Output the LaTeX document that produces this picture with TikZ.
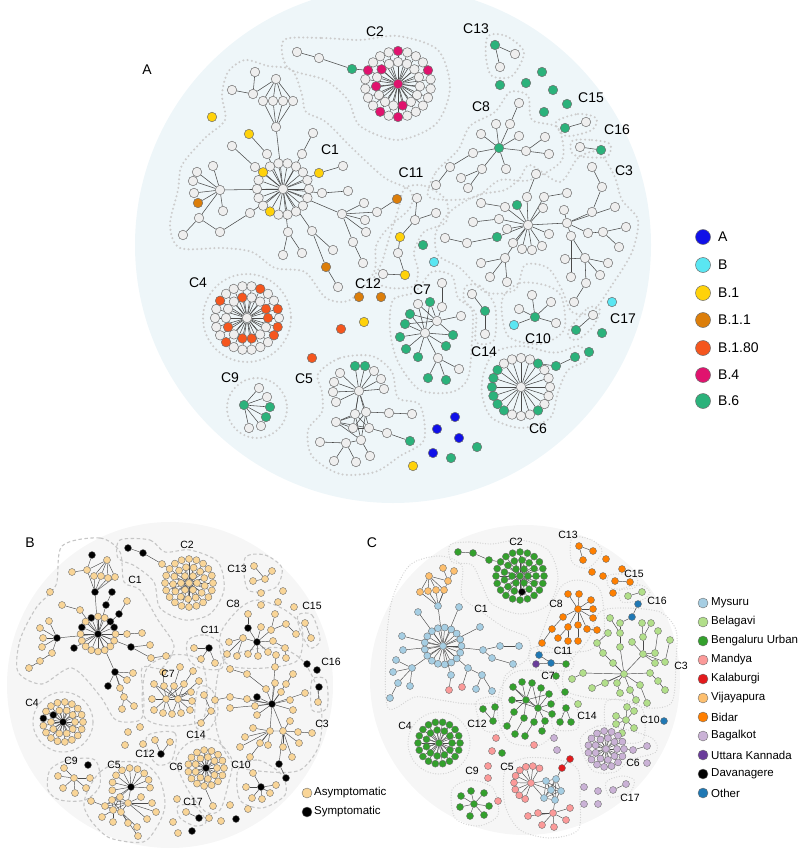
\documentclass[tikz,border=0pt]{standalone}
\usepackage{fontspec}
\setmainfont{Liberation Sans}
\usetikzlibrary{calc}
\pgfdeclarelayer{bg}
\pgfdeclarelayer{lk}
\pgfsetlayers{bg,lk,main}

\definecolor{bgA}{HTML}{EEF6F9}
\definecolor{bgS}{HTML}{F6F6F6}
\definecolor{ndA}{HTML}{EEEEEE}
\definecolor{ndline}{HTML}{6E6E6E}
\definecolor{lnkcol}{HTML}{4A4A4A}
\definecolor{hulcA}{HTML}{CCCCCC}
\definecolor{hulcB}{HTML}{C6C6C6}
\definecolor{hulcC}{HTML}{D2D2D2}
% lineages
\definecolor{bA}{HTML}{1010E8}
\definecolor{cyB}{HTML}{5AE6F2}
\definecolor{yB1}{HTML}{FFD20A}
\definecolor{oB11}{HTML}{DC7E0A}
\definecolor{rB180}{HTML}{F5561E}
\definecolor{pB4}{HTML}{E0136E}
\definecolor{gB6}{HTML}{2BB27B}
% symptoms
\definecolor{asy}{HTML}{F9D597}
\definecolor{sym}{HTML}{000000}
% districts
\definecolor{mys}{HTML}{A6CEE3}
\definecolor{bel}{HTML}{B2DF8A}
\definecolor{gBU}{HTML}{33A02C}
\definecolor{mand}{HTML}{FB9A99}
\definecolor{kal}{HTML}{E31A1C}
\definecolor{vij}{HTML}{FDBF6F}
\definecolor{bid}{HTML}{FF7F00}
\definecolor{bag}{HTML}{CAB2D6}
\definecolor{ukan}{HTML}{6A3D9A}
\definecolor{dav}{HTML}{000000}
\definecolor{oth}{HTML}{1F78B4}

% links are collected, then drawn once on the link layer
\gdef\alllinks{}
\newcommand{\lk}[1]{\xdef\alllinks{\unexpanded\expandafter{\alllinks}\noexpand\draw[lnk] #1;}}
\newcommand{\flushlinks}{\begin{pgfonlayer}{lk}\alllinks\end{pgfonlayer}\gdef\alllinks{}}
% free nodes: name, x/y/colour list
\newcommand{\loose}[2]{\foreach \x/\y/\c [count=\k] in {#2}{\node[nd, fill=\c] (#1-\k) at (\x,\y) {};}}
% nodes hanging from a parent
\newcommand{\leaves}[3]{\foreach \x/\y/\c [count=\k] in {#3}{\node[nd, fill=\c] (#1-\k) at (\x,\y) {}; \lk{(#2) -- (#1-\k)}}}
% links inside one group
\newcommand{\links}[2]{\foreach \a/\b in {#2}{\lk{(#1-\a) -- (#1-\b)}}}
% ring round a hub: name, hub, count, radius, start, colour, other colour, indices in other colour
\newcommand{\ringof}[8]{%
  \foreach \k in {1,...,#3}{%
    \gdef\rcol{#6}%
    \foreach \j in {#8}{\ifnum\j=\k\relax\gdef\rcol{#7}\fi}%
    \node[nd, fill=\rcol] (#1-\k) at ($(#2)+({#5+360*(\k-1)/#3}:#4)$) {};%
    \lk{(#2) -- (#1-\k)}%
  }}

\begin{document}
\begin{tikzpicture}[x=1pt, y=-1pt,
    nd/.style={circle, draw=ndline, line width=0.5pt, inner sep=0pt, minimum size=9.5pt},
    lnk/.style={draw=lnkcol, line width=0.55pt},
    hullA/.style={draw=hulcA, line width=2.3pt, line cap=round, dash pattern=on 0pt off 4.3pt},
    hullB/.style={draw=hulcB, line width=1.1pt, dash pattern=on 3.5pt off 2.5pt},
    hullC/.style={draw=hulcC, line width=1.3pt, line cap=round, dash pattern=on 0pt off 2.6pt},
    labA/.style={font=\fontsize{14}{16}\selectfont, inner sep=1pt},
    labS/.style={font=\fontsize{10.5}{12}\selectfont, inner sep=1pt},
    legtxt/.style={font=\fontsize{11.5}{13}\selectfont, anchor=west, inner sep=2pt}
]
\useasboundingbox (0,0) rectangle (800,848);

%%%%%%%%%%%%%%%%%%%% A: lineages
\begin{pgfonlayer}{bg}
\fill[bgA] (393,245) circle (258);
\draw[hullA] plot[smooth cycle] coordinates {(284,40) (322,38) (360,40) (398,36) (438,50) (450,88) (436,124) (398,140) (360,126) (348,100) (325,80) (288,68)};
\draw[hullA] plot[smooth cycle] coordinates {(245,60) (268,66) (292,70) (302,95) (306,112) (326,122) (352,148) (385,178) (410,190) (410,208) (388,228) (376,246) (374,272) (350,300) (326,298) (305,272) (275,268) (252,252) (222,248) (180,248) (170,225) (178,190) (182,165) (205,138) (225,120) (222,95) (228,72)};
\draw[hullA] plot[smooth cycle] coordinates {(405,188) (425,186) (446,200) (446,222) (424,232) (414,252) (418,270) (414,286) (390,288) (374,280) (382,262) (390,235) (398,210)};
\draw[hullA] plot[smooth cycle] coordinates {(428,196) (436,172) (458,150) (470,126) (495,112) (510,92) (528,96) (532,120) (558,128) (562,160) (530,180) (500,180) (478,196) (452,200)};
\draw[hullA] plot[smooth cycle] coordinates {(436,232) (452,210) (478,195) (505,190) (520,178) (530,165) (560,182) (578,158) (598,152) (614,175) (622,200) (638,220) (632,252) (612,285) (592,312) (572,312) (562,290) (548,268) (525,265) (515,290) (485,292) (460,268) (438,255)};
\draw[hullA] plot[smooth cycle] coordinates {(502,300) (520,283) (548,286) (562,298) (564,330) (540,344) (508,336)};
\draw[hullA] plot[smooth cycle] coordinates {(466,286) (480,286) (495,306) (494,340) (476,342) (476,314) (464,300)};
\draw[hullA] plot[smooth cycle] coordinates {(484,372) (495,352) (521,346) (548,352) (560,352) (580,346) (587,360) (568,370) (558,392) (550,418) (521,428) (492,418) (482,395)};
\draw[hullA] plot[smooth cycle] coordinates {(393,300) (415,292) (432,272) (452,276) (458,298) (472,310) (472,340) (468,378) (452,392) (420,390) (398,362) (390,330)};
\draw[hullA] plot[smooth cycle] coordinates {(318,374) (340,358) (372,356) (392,372) (398,398) (420,405) (424,440) (400,456) (375,472) (340,474) (312,456) (308,430) (322,412) (322,392)};
\draw[hullA] (257,408) circle (30);
\draw[hullA] (247,318) circle (44);
\draw[hullA] plot[smooth cycle] coordinates {(488,36) (506,36) (524,52) (512,76) (492,76) (486,58)};
\draw[hullA] plot[smooth cycle] coordinates {(556,122) (578,114) (596,118) (592,130) (566,136)};
\draw[hullA] plot[smooth cycle] coordinates {(572,141) (592,140) (610,144) (606,157) (574,155)};
\draw[hullA] plot[smooth cycle] coordinates {(568,332) (588,308) (600,310) (592,328) (576,340)};
\end{pgfonlayer}

\node[labA] (labA) at (147,70) {A};

% C2
\node[nd, fill=pB4] (a2) at (398,84) {};
\ringof{a2o}{a2}{22}{33}{-90}{ndA}{pB4}{1,5,12,14,19}
\ringof{a2i}{a2}{15}{22}{-90}{ndA}{pB4}{8,12,14}
\loose{a2t}{297/52/ndA, 319/58/ndA, 352/69/gB6}
\lk{(a2t-1) -- (a2t-2) -- (a2t-3) -- (a2o-19)}

% C1
\node[nd, fill=ndA] (a1) at (283,189) {};
\ringof{a1r}{a1}{18}{26}{0}{ndA}{yB1}{7,12}
\loose{a1n}{276/127/ndA, 276/79/ndA, 263/101/ndA, 273/101/ndA, 283/101/ndA, 293/101/ndA, 253/94/ndA, 232/90/ndA, 255/72/ndA}
\lk{(a1) -- (a1n-1)}
\foreach \b in {3,...,6}{\lk{(a1n-2) -- (a1n-\b) -- (a1n-1)}}
\links{a1n}{2/7, 7/8, 7/9}
\loose{a1b}{267/154/ndA, 249/134/yB1, 255/167/ndA, 232/146/ndA, 302/154/ndA, 313/133/ndA, 319/173/yB1, 343/166/ndA, 322/193/ndA, 348/191/ndA}
\foreach \b in {1,3,5,7,9}{\lk{(a1) -- (a1b-\b)}}
\links{a1b}{1/2, 3/4, 5/6, 7/8, 9/10}
\loose{a1c}{342/214/ndA, 364/203/ndA, 365/220/ndA, 366/232/ndA, 377/212/ndA, 397/199/oB11, 353/242/ndA, 363/263/ndA}
\lk{(a1) -- (a1c-1)}
\links{a1c}{1/2, 1/3, 1/4, 1/5, 5/6, 1/7, 7/8}
\loose{a1d}{288/232/ndA, 283/255/ndA, 302/253/ndA, 312/231/ndA, 333/250/ndA, 326/267/oB11, 338/287/ndA}
\lk{(a1) -- (a1d-1)}
\lk{(a1) -- (a1d-4)}
\links{a1d}{1/2, 1/3, 4/5, 4/6, 6/7}
\loose{a1e}{220/190/ndA, 197/172/ndA, 213/166/ndA, 193/181/ndA, 194/193/ndA, 198/203/oB11, 199/218/ndA, 183/235/ndA, 250/213/ndA, 220/232/ndA, 223/211/ndA}
\lk{(a1) -- (a1e-1)}
\lk{(a1) -- (a1e-9)}
\links{a1e}{1/2, 1/3, 1/4, 1/5, 1/6, 1/7, 7/8, 9/10, 10/7, 1/11}

% C11
\loose{a11}{417/198/ndA, 415/220/ndA, 436/213/ndA, 400/237/yB1, 398/253/ndA, 405/275/yB1, 383/274/ndA}
\links{a11}{1/2, 2/3, 2/4, 4/5, 5/6, 6/7}

% C8
\node[nd, fill=gB6] (a8) at (499,148) {};
\leaves{a8l}{a8}{496/124/ndA, 510/124/ndA, 481/134/ndA, 519/136/ndA, 526/151/ndA, 506/169/ndA, 482/169/ndA, 473/153/ndA}
\loose{a8m}{519/103/ndA, 545/137/ndA, 549/154/ndA, 461/178/ndA, 468/188/ndA, 450/167/ndA, 436/185/ndA}
\lk{(a8l-2) -- (a8m-1)}
\lk{(a8l-5) -- (a8m-2)}
\lk{(a8l-5) -- (a8m-3)}
\lk{(a8l-7) -- (a8m-4)}
\lk{(a8l-7) -- (a8m-5)}
\lk{(a8l-8) -- (a8m-6) -- (a8m-7)}

% C3
\node[nd, fill=ndA] (a3a) at (528,225) {};
\node[nd, fill=ndA] (a3b) at (567,223) {};
\node[nd, fill=ndA] (a3c) at (571,236) {};
\lk{(a3a) -- (a3b) -- (a3c)}
\leaves{a3p}{a3a}{527/197/ndA, 517/205/gB6, 505/207/ndA, 499/219/ndA, 507/229/ndA, 497/237/gB6, 513/243/ndA, 522/249/ndA, 532/250/ndA, 542/246/ndA, 549/234/ndA, 543/208/ndA, 544/197/ndA, 505/258/ndA}
\loose{a3q}{536/174/ndA, 481/203/ndA, 473/222/ndA, 467/243/ndA, 445/238/ndA, 567/193/ndA, 481/263/ndA, 490/277/ndA, 507/282/ndA}
\lk{(a3p-1) -- (a3q-1)}
\lk{(a3p-3) -- (a3q-2)}
\lk{(a3p-4) -- (a3q-3)}
\lk{(a3p-6) -- (a3q-4) -- (a3q-5)}
\lk{(a3p-13) -- (a3q-6)}
\foreach \b in {7,8,9}{\lk{(a3p-14) -- (a3q-\b)}}
\leaves{a3r}{a3b}{564/210/ndA, 592/212/ndA, 615/207/ndA, 588/233/ndA}
\loose{a3s}{602/187/ndA, 592/167/ndA, 603/232/ndA, 626/227/ndA, 619/247/ndA}
\lk{(a3r-2) -- (a3s-1) -- (a3s-2)}
\lk{(a3r-4) -- (a3s-3)}
\links{a3s}{3/4, 3/5}
\leaves{a3t}{a3c}{585/258/ndA, 571/277/ndA}
\loose{a3u}{565/259/ndA, 608/263/ndA, 600/275/ndA, 586/283/ndA, 574/302/ndA}
\foreach \b in {1,...,4}{\lk{(a3t-1) -- (a3u-\b)}}
\links{a3u}{4/5}

% C10, C14, C13, C15, C16, C17
\node[nd, fill=gB6] (a10) at (535,317) {};
\leaves{a10l}{a10}{519/309/ndA, 514/325/cyB, 532/295/ndA, 551/302/ndA, 556/323/ndA}
\loose{a14}{472/294/ndA, 485/311/gB6, 485/334/ndA}
\links{a14}{1/2, 2/3}
\loose{a13}{495/45/gB6, 515/54/ndA, 500/67/ndA}
\links{a13}{1/2, 1/3}
\loose{a15}{565/128/gB6, 586/122/ndA}
\links{a15}{1/2}
\loose{a16}{580/147/ndA, 601/150/gB6}
\links{a16}{1/2}
\loose{a17}{593/315/ndA, 576/330/gB6}
\links{a17}{1/2}

% C7
\node[nd, fill=ndA] (a7a) at (425,333) {};
\node[nd, fill=ndA] (a7b) at (437,321) {};
\loose{a7n}{430/302/gB6, 418/304/ndA, 410/314/gB6, 405/324/gB6, 400/337/gB6, 406/349/gB6, 418/357/gB6, 453/335/gB6, 446/346/gB6, 438/358/ndA, 442/307/ndA, 442/283/ndA, 461/316/ndA, 428/378/gB6, 446/380/gB6, 459/369/ndA}
\lk{(a7a) -- (a7b)}
\foreach \b in {1,...,10}{\lk{(a7a) -- (a7n-\b)}}
\foreach \b in {1,2,3,4,8,11,13}{\lk{(a7b) -- (a7n-\b)}}
\links{a7n}{11/12, 10/14, 10/15, 10/16}

% C5
\node[nd, fill=ndA] (a5) at (359,391) {};
\leaves{a5r}{a5}{340/373/ndA, 334/382/ndA, 333/392/ndA, 336/402/ndA, 355/366/gB6, 365/366/gB6, 374/371/ndA, 381/379/ndA, 384/389/ndA}
\loose{a5k}{355/414/ndA, 366/412/ndA, 336/422/ndA, 353/428/ndA, 369/428/ndA, 361/440/ndA}
\foreach \b in {1,2,4,5}{\lk{(a5) -- (a5k-\b)}}
\links{a5k}{3/1, 3/2, 3/4, 3/5, 1/5, 2/4, 4/5, 6/3, 6/2, 1/6}
\loose{a5m}{389/413/ndA, 412/414/ndA, 387/433/ndA, 410/441/gB6, 346/443/ndA, 320/442/ndA, 334/461/ndA, 356/462/ndA, 370/456/ndA}
\lk{(a5k-2) -- (a5m-1) -- (a5m-2)}
\lk{(a5k-5) -- (a5m-3) -- (a5m-4)}
\lk{(a5k-6) -- (a5m-5)}
\lk{(a5k-6) -- (a5m-9)}
\links{a5m}{5/6, 5/7, 5/8}

% C9
\node[nd, fill=gB6] (a9) at (244,405) {};
\leaves{a9l}{a9}{259/388/ndA, 267/397/ndA, 270/407/gB6, 266/417/gB6, 261/426/ndA, 249/428/ndA}

% C4
\node[nd, fill=ndA] (a4) at (247,318) {};
\ringof{a4o}{a4}{22}{32}{0}{ndA}{rB180}{2,3,9,14,19,22}
\ringof{a4i}{a4}{14}{21}{0}{ndA}{rB180}{1,4,5,7,11,14}

% C6
\node[nd, fill=ndA] (a6) at (521,387) {};
\ringof{a6r}{a6}{20}{29}{0}{ndA}{gB6}{4,8,9,10,11,12,13,18}
\loose{a6t}{556/366/gB6, 575/357/gB6}
\lk{(a6r-18) -- (a6t-1) -- (a6t-2)}

% single cases
\loose{ax}{212/117/yB1, 423/245/gB6, 434/262/cyB, 359/297/oB11, 381/297/oB11, 364/322/yB1, 341/329/rB180, 312/358/rB180, 542/72/gB6, 500/85/gB6, 526/83/gB6, 553/90/gB6, 567/104/gB6, 544/112/gB6, 612/302/cyB, 589/352/gB6, 602/333/gB6, 455/417/bA, 437/429/bA, 459/438/bA, 433/453/bA, 451/458/gB6, 477/447/gB6, 413/466/yB1}

\flushlinks

\foreach \t/\x/\y in {C2/375/32, C13/476/29, C15/591/98, C8/481/107, C16/617/130, C1/330/150, C11/411/173, C3/624/171, C4/198/283, C12/368/284, C7/422/290, C14/484/352, C10/538/339, C17/623/319, C9/230/378, C5/304/379, C6/538/429}
  {\node[labA] (tA-\t) at (\x,\y) {\t};}

\foreach \t/\c/\y [count=\k] in {A/bA/237, B/cyB/265, B.1/yB1/293, B.1.1/oB11/320, B.1.80/rB180/348, B.4/pB4/375, B.6/gB6/401}
  {\node[nd, fill=\c, minimum size=15pt] (legA-\k) at (703,\y) {};
   \node[legtxt, font=\fontsize{14}{16}\selectfont] (legAt-\k) at (716,\y) {\t};}

%%%%%%%%%%%%%%%%%%%% B: symptoms
\begin{scope}[nd/.append style={minimum size=7pt, line width=0.4pt}, lnk/.append style={line width=0.45pt}]
\begin{pgfonlayer}{bg}
\fill[bgS] (170,685) circle (163);
\draw[hullB] plot[smooth cycle] coordinates {(120,540) (150,540) (165,552) (190,550) (218,562) (224,590) (210,614) (185,620) (160,608) (154,582) (135,566) (118,558)};
\draw[hullB] plot[smooth cycle] coordinates {(62,546) (100,538) (120,552) (124,582) (140,590) (158,620) (174,646) (162,668) (142,668) (144,702) (140,720) (116,720) (100,696) (72,668) (42,684) (18,672) (20,640) (36,608) (56,585)};
\draw[hullB] (63,722) circle (30);
\draw[hullB] plot[smooth cycle] coordinates {(50,770) (68,760) (95,760) (100,785) (85,800) (60,800) (48,790)};
\draw[hullB] plot[smooth cycle] coordinates {(88,790) (100,772) (120,762) (145,764) (160,780) (165,805) (158,825) (143,842) (110,838) (92,822) (84,806)};
\draw[hullB] plot[smooth cycle] coordinates {(148,735) (175,733) (172,760) (158,765) (148,752)};
\draw[hullB] plot[smooth cycle] coordinates {(146,670) (172,655) (200,660) (207,690) (202,720) (170,726) (144,716)};
\draw[hullB] plot[smooth cycle] coordinates {(198,688) (212,690) (218,712) (208,730) (195,725)};
\draw[hullB] plot[smooth cycle] coordinates {(176,760) (190,742) (215,740) (232,760) (228,785) (220,810) (206,812) (188,790)};
\draw[hullB] plot[smooth cycle] coordinates {(238,770) (258,760) (282,775) (285,795) (262,808) (240,800)};
\draw[hullB] plot[smooth cycle] coordinates {(178,806) (195,806) (206,822) (195,826) (180,818)};
\draw[hullB] plot[smooth cycle] coordinates {(188,640) (205,635) (222,645) (222,668) (200,668) (188,658)};
\draw[hullB] plot[smooth cycle] coordinates {(222,630) (240,608) (258,600) (285,610) (302,628) (298,660) (265,668) (230,666) (220,650)};
\draw[hullB] plot[smooth cycle] coordinates {(245,558) (265,555) (282,568) (275,588) (248,590)};
\draw[hullB] plot[smooth cycle] coordinates {(298,615) (312,615) (320,640) (310,648) (300,630)};
\draw[hullB] plot[smooth cycle] coordinates {(312,680) (326,680) (327,708) (312,710)};
\draw[hullB] plot[smooth cycle] coordinates {(222,662) (250,650) (280,648) (302,660) (316,685) (322,718) (318,748) (300,770) (270,772) (235,765) (218,735) (215,700)};
\end{pgfonlayer}

\node[labA] (labB) at (30,543) {B};

% C2
\node[nd, fill=asy] (b2) at (189,583) {};
\ringof{b2o}{b2}{20}{24}{0}{asy}{asy}{0}
\ringof{b2m}{b2}{13}{16}{10}{asy}{asy}{0}
\ringof{b2i}{b2}{6}{8}{0}{asy}{asy}{0}
\loose{b2t}{128/548/sym, 143/553/sym, 162/564/asy}
\lk{(b2t-1) -- (b2t-2) -- (b2t-3) -- (b2o-13)}

% C1
\node[nd, fill=sym] (b1) at (98,634) {};
\ringof{b1r}{b1}{16}{17.5}{0}{asy}{sym}{10,12,15,16}
\loose{b1u}{95/592/sym, 107/560/asy, 87/570/asy, 94/576/asy, 101/576/asy, 108/578/asy, 115/577/asy, 92/555/sym, 72/572/asy}
\lk{(b1) -- (b1u-1)}
\foreach \b in {3,...,7}{\lk{(b1u-1) -- (b1u-\b) -- (b1u-2)}}
\links{b1u}{8/3, 9/3}
\loose{b1l}{57/638/sym, 40/628/asy, 43/638/asy, 42/647/asy, 49/621/asy, 52/653/asy, 40/661/asy, 29/668/asy}
\lk{(b1) -- (b1l-1)}
\links{b1l}{1/2, 1/3, 1/4, 1/5, 1/6, 6/7, 7/8}
\loose{b1m}{74/648/sym, 80/610/asy, 62/605/asy, 106/605/sym, 112/592/sym, 119/614/sym, 127/601/asy, 127/634/asy, 142/633/asy, 131/647/sym, 150/645/asy, 151/658/asy, 166/656/asy}
\foreach \b in {1,2,4,6,8,10}{\lk{(b1) -- (b1m-\b)}}
\links{b1m}{2/3, 4/5, 6/7, 8/9, 10/11, 10/12, 12/13}
\loose{b1d}{115/672/sym, 108/686/sym, 120/688/asy, 124/697/asy, 127/680/asy, 133/673/asy, 134/706/asy, 122/709/asy}
\lk{(b1) -- (b1d-1)}
\links{b1d}{1/2, 1/3, 1/4, 1/5, 1/6, 4/7, 4/8}

% C4
\node[nd, fill=sym] (b4) at (63,722) {};
\ringof{b4o}{b4}{17}{20}{0}{asy}{sym}{10}
\ringof{b4i}{b4}{10}{12}{0}{asy}{sym}{7}

% C9
\node[nd, fill=asy] (b9) at (74,778) {};
\leaves{b9l}{b9}{58/776/asy, 63/788/asy, 75/793/asy, 86/788/asy, 90/778/asy, 64/768/asy}

% C5
\node[nd, fill=sym] (b5) at (131,787) {};
\foreach \k in {1,...,9}{\node[nd, fill=asy] (b5r-\k) at ($(b5)+({170+24*(\k-1)}:19)$) {}; \lk{(b5) -- (b5r-\k)}}
\loose{b5k}{112/800/asy, 120/797/asy, 128/803/asy, 113/810/asy, 121/812/asy, 105/806/asy}
\foreach \b in {1,2,3}{\lk{(b5) -- (b5k-\b)}}
\links{b5k}{1/2, 1/3, 1/4, 1/5, 1/6, 2/3, 2/4, 2/5, 2/6, 3/4, 3/5, 3/6, 4/5, 4/6, 5/6}
\loose{b5m}{141/797/asy, 152/803/asy, 156/812/asy, 147/819/asy, 128/823/asy, 137/827/asy, 138/836/asy, 113/822/asy, 102/817/asy, 91/801/asy}
\foreach \b in {1,...,4}{\lk{(b5k-3) -- (b5m-\b)}}
\foreach \b in {5,6,7}{\lk{(b5k-5) -- (b5m-\b)}}
\lk{(b5k-4) -- (b5m-8)}
\lk{(b5k-4) -- (b5m-9)}
\lk{(b5k-6) -- (b5m-10)}

% C7
\node[nd, fill=asy] (b7a) at (166,699) {};
\node[nd, fill=asy] (b7b) at (178,699) {};
\loose{b7n}{154/684/asy, 164/686/asy, 174/686/asy, 184/684/asy, 193/671/asy, 199/681/asy, 191/692/asy, 192/701/asy, 190/710/asy, 181/713/asy, 172/714/asy, 163/713/asy, 154/710/asy, 152/699/asy, 180/667/asy, 163/672/asy}
\lk{(b7a) -- (b7b)}
\foreach \b in {1,2,3,4,7,8,11,12,13,14}{\lk{(b7a) -- (b7n-\b)}}
\foreach \b in {1,2,3,4,6,7,8,9,10,11,14}{\lk{(b7b) -- (b7n-\b)}}
\links{b7n}{4/5, 2/16, 3/15}

% C14, C12, C11, C13, C15, C16, C17
\loose{b14}{204/695/asy, 211/711/asy, 201/723/asy}
\links{b14}{1/2, 2/3}
\node[nd, fill=sym] (b12) at (161,754) {};
\leaves{b12l}{b12}{155/740/asy, 170/742/asy}
\node[nd, fill=sym] (b11) at (209,648) {};
\leaves{b11l}{b11}{194/648/asy, 201/659/asy, 215/663/asy}
\loose{b13}{254/566/asy, 272/571/asy, 265/579/asy, 253/581/asy}
\links{b13}{1/3, 2/3, 3/4}
\loose{b15}{305/623/asy, 311/638/asy}
\links{b15}{1/2}
\loose{b16}{317/670/sym, 319/687/sym, 318/702/asy}
\links{b16}{2/3}
\loose{b17}{186/812/asy, 199/818/sym}
\links{b17}{1/2}

% C6
\node[nd, fill=sym] (b6) at (206,768) {};
\ringof{b6o}{b6}{15}{18}{0}{asy}{asy}{0}
\ringof{b6i}{b6}{9}{11}{0}{asy}{asy}{0}
\node[nd, fill=asy] (b6t) at (213,806) {};
\lk{(b6o-5) -- (b6t)}

% C10
\node[nd, fill=sym] (b10) at (261,787) {};
\leaves{b10l}{b10}{253/773/asy, 246/787/asy, 252/798/asy, 262/799/asy, 270/793/asy, 276/785/asy}

% C8
\node[nd, fill=sym] (b8) at (257,642) {};
\leaves{b8l}{b8}{248/628/sym, 261/627/asy, 271/630/asy, 273/641/asy, 268/652/asy, 258/656/asy, 248/654/asy, 243/638/asy}
\loose{b8m}{248/614/asy, 275/614/asy, 286/624/asy, 296/634/asy, 285/648/asy, 286/658/asy, 229/642/asy, 227/654/asy, 237/656/asy}
\lk{(b8l-1) -- (b8m-1)}
\lk{(b8l-3) -- (b8m-2)}
\lk{(b8l-3) -- (b8m-3) -- (b8m-4)}
\lk{(b8l-4) -- (b8m-5) -- (b8m-6)}
\foreach \b in {7,8,9}{\lk{(b8l-8) -- (b8m-\b)}}

% C3
\node[nd, fill=sym] (b3a) at (272,704) {};
\node[nd, fill=asy] (b3b) at (270,731) {};
\node[nd, fill=asy] (b3c) at (283,731) {};
\lk{(b3a) -- (b3b) -- (b3c) -- (b3a)}
\leaves{b3p}{b3a}{275/667/asy, 275/683/asy, 266/689/asy, 257/697/sym, 247/699/asy, 230/697/asy, 230/708/asy, 255/706/asy, 257/715/asy, 281/692/asy, 286/684/asy, 290/700/asy, 293/710/asy, 305/693/asy}
\loose{b3q}{276/655/asy, 247/674/asy, 230/669/asy, 293/674/asy, 215/700/asy}
\lk{(b3p-1) -- (b3q-1)}
\lk{(b3p-3) -- (b3q-2) -- (b3q-3)}
\lk{(b3p-11) -- (b3q-4)}
\lk{(b3p-6) -- (b3q-5)}
\leaves{b3r}{b3b}{253/728/asy, 245/737/asy, 240/747/asy, 260/743/asy, 250/757/asy, 268/745/asy}
\leaves{b3s}{b3c}{290/721/asy, 298/732/asy, 299/743/asy, 292/757/asy, 283/747/asy, 279/764/sym}
\loose{b3t}{286/778/sym, 312/733/asy}
\lk{(b3s-6) -- (b3t-1)}
\lk{(b3s-2) -- (b3t-2)}

% single cases
\loose{bx}{50/592/asy, 128/732/asy, 140/727/asy, 125/745/asy, 143/744/asy, 177/799/asy, 173/822/asy, 178/833/asy, 192/831/sym, 209/818/asy, 221/821/asy, 236/819/sym, 230/805/asy, 248/809/asy, 261/593/asy, 283/591/asy, 278/602/asy, 261/605/asy, 294/607/asy, 307/664/sym, 88/765/sym}

\flushlinks

\foreach \t/\x/\y in {C2/187/545, C1/135/580, C13/237/569, C8/233/604, C15/312/606, C11/210/630, C16/331/662, C7/168/674, C4/32/703, C3/322/724, C14/196/735, C12/145/754, C9/71/761, C5/114/765, C6/176/767, C10/241/765, C17/193/802}
  {\node[labS] (tB-\t) at (\x,\y) {\t};}

\node[nd, fill=asy, minimum size=10pt] (legB-1) at (307,793) {};
\node[legtxt] (legBt-1) at (312,793) {Asymptomatic};
\node[nd, fill=sym, minimum size=10pt] (legB-2) at (307,812) {};
\node[legtxt] (legBt-2) at (312,812) {Symptomatic};
\end{scope}

%%%%%%%%%%%%%%%%%%%% C: districts
\begin{scope}[nd/.append style={minimum size=7pt, line width=0.4pt}, lnk/.append style={line width=0.45pt}]
\begin{pgfonlayer}{bg}
\fill[bgS] (525,680) circle (155);
\draw[hullC] plot[smooth cycle] coordinates {(450,545) (470,542) (492,544) (520,540) (548,550) (558,578) (548,605) (520,614) (492,604) (482,585) (472,565) (452,562)};
\draw[hullC] plot[smooth cycle] coordinates {(392,600) (410,565) (440,556) (462,566) (462,596) (482,612) (505,628) (528,638) (528,658) (505,676) (500,700) (470,704) (440,700) (415,697) (388,708) (386,650)};
\draw[hullC] plot[smooth cycle] coordinates {(572,538) (592,540) (602,552) (588,568) (572,562)};
\draw[hullC] plot[smooth cycle] coordinates {(538,650) (545,625) (560,588) (578,580) (600,590) (604,632) (590,650) (560,652)};
\draw[hullC] plot[smooth cycle] coordinates {(608,576) (622,574) (637,578) (634,588) (610,588)};
\draw[hullC] plot[smooth cycle] coordinates {(620,590) (640,585) (650,592) (642,600) (622,602)};
\draw[hullC] plot[smooth cycle] coordinates {(530,650) (545,646) (572,658) (570,670) (540,670) (530,662)};
\draw[hullC] plot[smooth cycle] coordinates {(565,668) (588,640) (600,612) (625,608) (660,612) (676,630) (676,660) (672,702) (648,708) (620,700) (590,698) (565,690)};
\draw[hullC] plot[smooth cycle] coordinates {(606,702) (625,700) (643,710) (643,740) (620,742) (606,728)};
\draw[hullC] plot[smooth cycle] coordinates {(500,690) (515,672) (545,672) (562,695) (560,725) (540,745) (510,742) (498,718)};
\draw[hullC] plot[smooth cycle] coordinates {(556,700) (574,700) (578,728) (553,728)};
\draw[hullC] plot[smooth cycle] coordinates {(476,702) (500,698) (502,728) (484,730)};
\draw[hullC] (439,743) circle (31);
\draw[hullC] plot[smooth cycle] coordinates {(580,740) (598,726) (620,728) (652,738) (656,752) (630,760) (615,772) (592,770)};
\draw[hullC] plot[smooth cycle] coordinates {(452,790) (470,780) (493,788) (498,815) (478,826) (455,818)};
\draw[hullC] plot[smooth cycle] coordinates {(505,770) (525,758) (560,760) (578,770) (580,800) (578,830) (550,838) (520,830) (505,805)};
\draw[hullC] plot[smooth cycle] coordinates {(606,782) (622,776) (634,780) (630,792) (610,797)};
\end{pgfonlayer}

\node[labA] (labC) at (372,543) {C};

% C2
\node[nd, fill=gBU] (c2) at (520,576) {};
\ringof{c2o}{c2}{20}{24}{0}{gBU}{gBU}{0}
\ringof{c2m}{c2}{13}{16}{0}{gBU}{dav}{4}
\ringof{c2i}{c2}{6}{8}{0}{gBU}{gBU}{0}
\loose{c2t}{458/552/gBU, 473/553/gBU, 489/560/gBU}
\lk{(c2t-1) -- (c2t-2) -- (c2t-3) -- (c2o-13)}

% C1
\node[nd, fill=mys] (c1) at (443,646) {};
\ringof{c1r}{c1}{17}{18.5}{0}{mys}{mys}{0}
\node[nd, fill=mys] (c1u) at (438,606) {};
\lk{(c1) -- (c1u)}
\loose{cv}{429/576/vij, 443/568/vij, 454/571/vij, 448/581/vij, 420/592/vij, 428/591/vij, 436/590/vij, 444/590/vij}
\foreach \b in {5,...,8}{\lk{(c1u) -- (cv-\b) -- (cv-1)}}
\links{cv}{4/1, 4/2, 4/3}
\lk{(c1u) -- (cv-4)}
\loose{c1a}{418/612/mys, 459/607/mys, 480/627/mys, 402/636/mys, 403/650/mys, 483/650/mys, 500/646/mys, 519/646/mys, 492/658/mys, 513/664/mys, 468/668/mys, 482/675/mys, 476/689/mys, 492/691/mys, 451/675/mys, 449/690/mand, 462/687/mand, 412/668/mys, 396/660/mys, 393/672/mys, 398/683/mys, 410/686/mys, 390/698/mys}
\foreach \b in {1,2,3,4,5,6,11,15,18}{\lk{(c1) -- (c1a-\b)}}
\links{c1a}{6/7, 7/8, 6/9, 9/10, 11/12, 12/13, 12/14, 15/16, 11/17, 18/19, 18/20, 18/21, 18/22, 21/23}

% C8
\node[nd, fill=bid] (c8) at (578,609) {};
\leaves{c8l}{c8}{568/594/bid, 579/594/bid, 591/600/bid, 593/609/bid, 593/618/bid, 587/629/bid, 578/625/bid, 568/627/bid, 563/617/bid}
\loose{c8m}{578/641/bid, 568/641/bid, 558/638/bid, 552/629/bid, 542/643/bid, 597/630/bid}
\lk{(c8l-7) -- (c8m-1)}
\lk{(c8l-8) -- (c8m-2)}
\lk{(c8l-8) -- (c8m-3)}
\lk{(c8l-9) -- (c8m-4) -- (c8m-5)}
\lk{(c8l-6) -- (c8m-6)}

% C13, C15, C16, C11, C17
\loose{c13}{579/546/bid, 593/551/bid, 583/560/bid}
\links{c13}{1/2, 1/3}
\loose{c15}{615/581/bid, 630/582/bid}
\links{c15}{1/2}
\loose{c16}{628/596/bel, 642/592/bel, 638/604/oth, 632/617/oth}
\links{c16}{1/2, 3/4}
\loose{c11}{539/655/oth, 536/664/ukan, 551/663/oth, 566/664/gBU}
\links{c11}{1/3, 2/3, 3/4}
\loose{c17}{613/790/bag, 626/784/bag}
\links{c17}{1/2}

% C3
\node[nd, fill=bel] (c3) at (624,674) {};
\node[nd, fill=bel] (c3b) at (643,654) {};
\lk{(c3) -- (c3b)}
\leaves{c3p}{c3}{583/673/bel, 603/653/bel, 613/663/bel, 620/647/bel, 592/688/bel, 605/683/bel, 617/683/bel, 630/690/bel, 640/685/bel, 650/673/bel}
\loose{c3q}{572/679/bel, 620/693/bel, 636/700/bel, 647/703/bel, 658/681/bel, 665/690/bel}
\lk{(c3p-1) -- (c3q-1)}
\lk{(c3p-7) -- (c3q-2)}
\lk{(c3p-8) -- (c3q-3)}
\lk{(c3p-9) -- (c3q-4)}
\lk{(c3p-10) -- (c3q-5) -- (c3q-6)}
\leaves{c3r}{c3b}{632/642/bel, 643/637/bel, 655/653/bel, 655/663/bel, 665/662/bel}
\loose{c3s}{610/618/bel, 620/623/bel, 642/623/bel, 651/623/bel, 658/631/bel, 670/640/bel, 597/643/bel, 608/633/bel, 620/633/bel}
\lk{(c3p-4) -- (c3s-9) -- (c3s-2)}
\lk{(c3s-9) -- (c3s-1)}
\lk{(c3p-2) -- (c3s-7)}
\lk{(c3s-7) -- (c3s-8)}
\lk{(c3r-2) -- (c3s-3)}
\lk{(c3r-2) -- (c3s-4)}
\lk{(c3r-3) -- (c3s-5)}
\lk{(c3r-5) -- (c3s-6)}
\lk{(c16-4) -- (c3s-2)}

% C10
\node[nd, fill=bel] (c10) at (626,720) {};
\leaves{c10l}{c10}{627/707/bel, 634/711/bel, 616/716/bel, 616/724/bel, 634/728/bel, 622/733/bel}

% C7
\node[nd, fill=gBU] (c7a) at (526,700) {};
\node[nd, fill=gBU] (c7b) at (538,708) {};
\loose{c7n}{513/687/gBU, 522/682/gBU, 532/683/gBU, 541/688/gBU, 549/694/gBU, 551/704/gBU, 552/714/gBU, 545/721/gBU, 534/722/gBU, 524/718/gBU, 514/712/gBU, 512/700/gBU, 507/726/gBU, 515/734/gBU, 525/736/gBU, 542/731/gBU}
\lk{(c7a) -- (c7b)}
\foreach \b in {1,2,3,5,10,11,12}{\lk{(c7a) -- (c7n-\b)}}
\foreach \b in {1,3,4,5,6,7,8,9,12}{\lk{(c7b) -- (c7n-\b)}}
\links{c7n}{11/13, 10/14, 9/15, 8/16}

% C14, C12
\node[nd, fill=gBU] (c14) at (566,708) {};
\leaves{c14l}{c14}{560/722/gBU, 571/722/gBU}
\node[nd, fill=gBU] (c12) at (493,721) {};
\leaves{c12l}{c12}{483/709/gBU, 495/707/gBU}

% C4
\node[nd, fill=gBU] (c4) at (439,743) {};
\ringof{c4o}{c4}{18}{21}{0}{gBU}{gBU}{0}
\ringof{c4i}{c4}{11}{13}{0}{gBU}{gBU}{0}

% C6
\node[nd, fill=bag] (c6) at (606,749) {};
\ringof{c6o}{c6}{15}{18}{0}{bag}{bag}{0}
\ringof{c6i}{c6}{9}{11}{0}{bag}{bag}{0}
\loose{c6t}{633/750/bag, 647/746/bag}
\lk{(c6o-1) -- (c6t-1) -- (c6t-2)}

% C9
\node[nd, fill=gBU] (c9) at (474,804) {};
\leaves{c9l}{c9}{461/796/gBU, 460/807/gBU, 471/791/gBU, 484/793/gBU, 489/806/gBU, 484/815/gBU, 470/816/gBU}

% C5
\node[nd, fill=mand] (c5) at (531,783) {};
\foreach \k in {1,...,9}{\node[nd, fill=mand] (c5r-\k) at ($(c5)+({110+23.75*(\k-1)}:17)$) {}; \lk{(c5) -- (c5r-\k)}}
\loose{c5k}{546/781/mys, 556/779/mys, 551/790/mys, 561/791/mys, 544/798/mys, 555/800/mys}
\foreach \b in {1,3,5}{\lk{(c5) -- (c5k-\b)}}
\links{c5k}{1/2, 1/3, 1/4, 1/5, 1/6, 2/3, 2/4, 2/5, 2/6, 3/4, 3/5, 3/6, 4/5, 4/6, 5/6}
\loose{c5q}{562/768/kal, 570/759/kal}
\lk{(c5k-2) -- (c5q-1) -- (c5q-2)}
\node[nd, fill=mand] (c5b) at (553,813) {};
\lk{(c5k-6) -- (c5b)}
\leaves{c5l}{c5b}{528/816/mand, 538/813/mand, 542/825/mand, 554/827/mand, 566/820/mand, 570/808/mand}

% single cases
\loose{cx}{606/559/bid, 592/572/bid, 603/576/bid, 622/569/bid, 613/593/bid, 556/676/gBU, 565/692/gBU, 578/704/bel, 664/721/oth, 647/763/bag, 554/738/bag, 557/750/bag, 534/745/mand, 496/738/mand, 492/751/mand, 502/753/gBU, 488/766/mand, 488/778/mand, 498/801/mand, 584/804/bag, 598/804/bag, 584/787/bag, 598/791/bag}

\flushlinks

\foreach \t/\x/\y in {C2/516/542, C13/568/535, C15/634/574, C16/657/601, C1/481/609, C8/556/604, C11/563/651, C3/681/666, C7/548/676, C14/587/716, C10/650/720, C12/477/724, C4/405/726, C6/633/763, C9/472/771, C5/507/767, C17/630/798}
  {\node[labS] (tC-\t) at (\x,\y) {\t};}

\foreach \t/\c [count=\k] in {Mysuru/mys, Belagavi/bel, Bengaluru Urban/gBU, Mandya/mand, Kalaburgi/kal, Vijayapura/vij, Bidar/bid, Bagalkot/bag, Uttara Kannada/ukan, Davanagere/dav, Other/oth}
  {\node[nd, fill=\c, minimum size=10pt] (legC-\k) at (703,{603+19*(\k-1)}) {};
   \node[legtxt] (legCt-\k) at (709,{603+19*(\k-1)}) {\t};}
\end{scope}
\end{tikzpicture}
\end{document}
